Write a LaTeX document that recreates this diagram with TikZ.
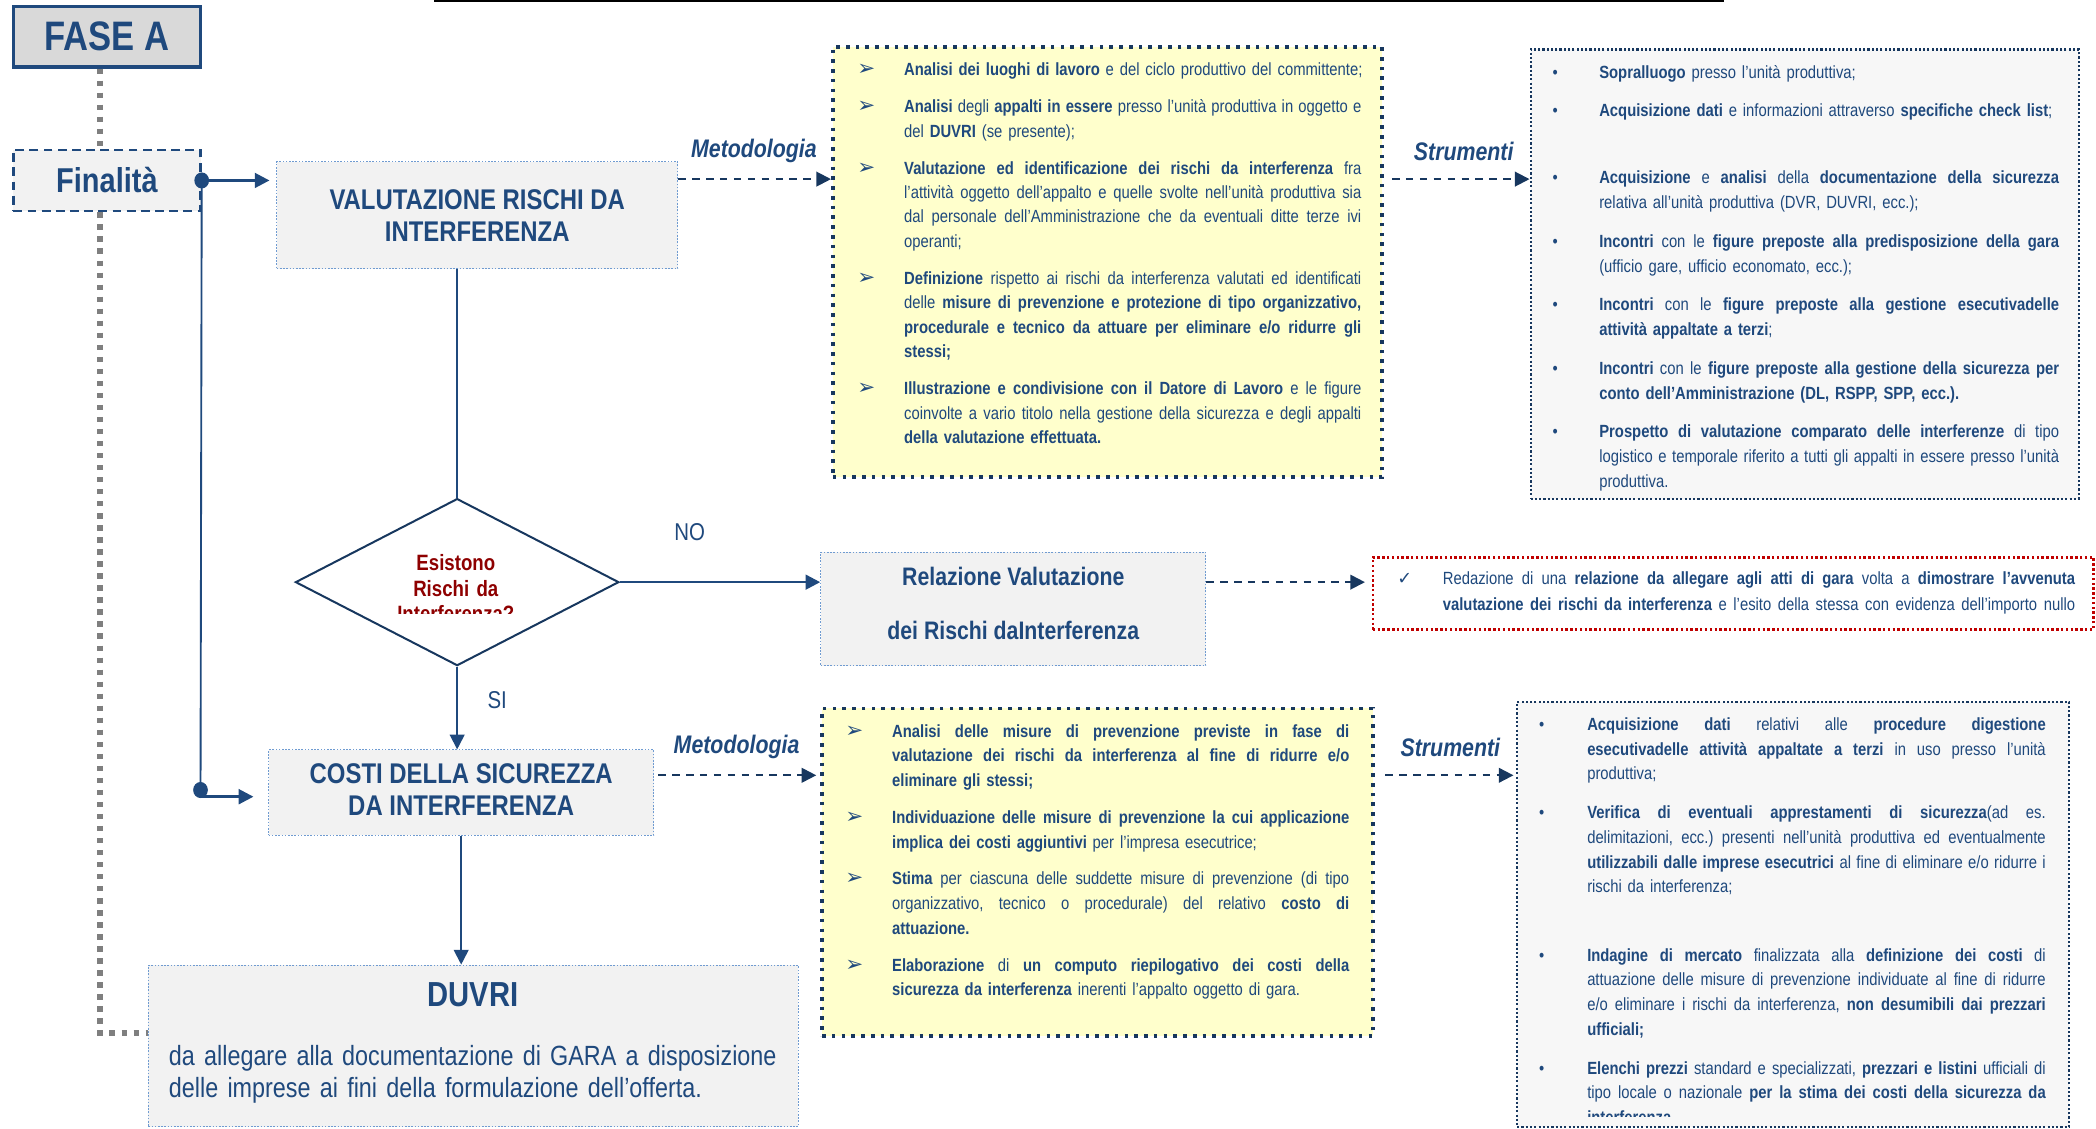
\documentclass[tikz,border=0pt]{standalone}
\usepackage{fontspec}
\setmainfont{Liberation Sans}[FakeStretch=0.84]
\newfontfamily\djv{DejaVu Sans}
\usetikzlibrary{arrows.meta,shapes.geometric,calc}
\definecolor{tblue}{HTML}{1F497D}
\definecolor{navy}{HTML}{17375E}
\definecolor{boxgray}{HTML}{F2F2F2}
\definecolor{toolgray}{HTML}{F7F7F7}
\definecolor{ylw}{HTML}{FFFFCC}
\definecolor{lblue}{HTML}{6F9BD1}
\definecolor{dkred}{HTML}{8E0000}
\definecolor{redb}{HTML}{C00000}
\definecolor{dgray}{HTML}{7F7F7F}
\definecolor{faseg}{HTML}{D9D9D9}
\newcommand\fsz[2]{\fontsize{#1}{#2}\selectfont}
\newlength\mybulw
\newlength\rsLineW
\newcommand\itemsz[1]{\fontsize{6.6pt}{#1}\selectfont\frenchspacing}
\makeatletter
\def\rsJ#1{\hbox to \rsLineW{\rs@a#1 \rs@end}}
\def\rs@a#1 #2\rs@end{#1\ifx\relax#2\relax\else\hskip0.233em plus 1fil minus 0.06em\relax\rs@a#2\rs@end\fi}
\makeatother
\newcommand\lnA[2]{\hbox{\makebox[\mybulw][l]{#1}\rsJ{#2}}}
\newcommand\lnB[2]{\hbox{\makebox[\mybulw][l]{#1}#2}}
\newcommand\lnC[1]{\hbox{\hspace{\mybulw}\rsJ{#1}}}
\newcommand\lnD[1]{\hbox{\hspace{\mybulw}#1}}
\newcommand\ab{{\djv\fontsize{8pt}{8pt}\selectfont ➢}}
\newcommand\db{\hspace{1.5pt}•}
\newcommand\ck{\hspace{1pt}{\djv ✓}}
\begin{document}
\begin{tikzpicture}[x=0.5pt,y=-0.5pt,
  box/.style={draw=lblue, line width=0.4pt, dash pattern=on 0.6pt off 0.6pt, fill=boxgray, inner sep=0pt, text=tblue},
  ybox/.style={draw=navy, line width=1.35pt, dash pattern=on 1.35pt off 2.3pt, fill=ylw, inner sep=0pt},
  tbox/.style={draw=navy, line width=0.8pt, dash pattern=on 0.8pt off 0.8pt, fill=toolgray, inner sep=0pt},
  rbox/.style={draw=redb, line width=0.9pt, dash pattern=on 0.9pt off 0.9pt, fill=white, inner sep=0pt},
  lst/.style={anchor=base west, inner sep=0pt, text=tblue},
  conn/.style={draw=tblue, line width=0.7pt},
  tip/.style={-{Triangle[length=5.5pt,width=5.5pt]}},
  darr/.style={draw=navy, line width=0.75pt, dash pattern=on 2.8pt off 2.4pt, -{Triangle[length=5.5pt,width=5.5pt]}},
  graydot/.style={draw=dgray, line width=2.3pt, dash pattern=on 2pt off 2.5pt},
  lab/.style={text=tblue, inner sep=0pt, font=\bfseries\itshape\fsz{9.5pt}{11pt}},
  dotn/.style={ellipse, fill=tblue, inner sep=0pt, minimum width=5.5pt, minimum height=6pt},
  titlef/.style={font=\bfseries\fsz{10.65pt}{12pt}}
]
\useasboundingbox (0,0) rectangle (1568,844);
\draw[line width=0.8pt] (325,1) -- (1290,1);

% main boxes
\node[draw=tblue, line width=1.3pt, fill=faseg, text=tblue, minimum width=70pt, minimum height=22.5pt, inner sep=0pt, font=\bfseries\fsz{15.4pt}{18pt}] (fase) at (80,27.5) {FASE A};
\node[draw=tblue, line width=0.9pt, dash pattern=on 3.3pt off 2pt, fill=boxgray, text=tblue, minimum width=70pt, minimum height=23pt, inner sep=0pt, font=\bfseries\fsz{12.9pt}{15pt}] (fin) at (80,135) {Finalità};
\node[box, titlef, align=center, minimum width=150pt, minimum height=40pt] (val) at (357,161) {VALUTAZIONE RISCHI DA\\INTERFERENZA};
\node[draw=navy, line width=0.75pt, fill=white, diamond, minimum width=121pt, minimum height=62.5pt, inner sep=0pt] (dec) at (342,435.5) {};
\node[box, minimum width=144pt, minimum height=42.5pt] (rel) at (758,455.5) {};
\node[rbox, minimum width=269.5pt, minimum height=27pt] (red) at (1296.5,444) {};
\node[ybox, minimum width=205.5pt, minimum height=161pt] (y1) at (828.5,196) {};
\node[tbox, minimum width=205pt, minimum height=168pt] (g1) at (1350,205) {};
\node[box, minimum width=144pt, minimum height=32pt] (costi) at (345,593) {};
\node[box, minimum width=243pt, minimum height=60.5pt] (duvri) at (354,782.5) {};
\node[ybox, minimum width=206pt, minimum height=122.5pt] (y2) at (821,652.5) {};
\node[tbox, minimum width=206.5pt, minimum height=159pt] (g2) at (1341.5,684) {};

% texts inside
\node[inner sep=0pt, text=tblue, align=center, font=\bfseries\fsz{9.47pt}{11pt}] (relt) at (758,451.5) {Relazione Valutazione\\[9.5pt]dei Rischi daInterferenza};
\node[inner sep=0pt, text=tblue, titlef, align=center] (costit) at (345,591) {COSTI DELLA SICUREZZA\\DA INTERFERENZA};
\begin{scope}
\clip (219,373) rectangle (465,458.6);
\node[anchor=base, inner sep=0pt, text=dkred, text width=80pt, align=center, font=\bfseries\fsz{8.3pt}{9.5pt}] (dect) at (341,427) {Esistono\\Rischi da\\Interferenza?};
\end{scope}
\node[anchor=center, inner sep=0pt, text=tblue, font=\bfseries\fsz{13pt}{15pt}] (duvt) at (354,744) {DUVRI};
\node[lst, text width=240pt, align=left, font=\fsz{10.4pt}{12pt}] (duvb) at (126,797) {da allegare alla documentazione di GARA a disposizione\\delle imprese ai fini della formulazione dell’offerta.};

\node[text=tblue, inner sep=0pt, font=\fsz{9.1pt}{11pt}] (no) at (516,398) {NO};
\node[text=tblue, inner sep=0pt, font=\fsz{9.1pt}{11pt}] (si) at (372,524) {SI};
\node[lab] (met1) at (564,113) {Metodologia};
\node[lab] (str1) at (1095,113) {Strumenti};
\node[lab] (met2) at (551,559) {Metodologia};
\node[lab] (str2) at (1085,559) {Strumenti};

% list Y1
\setlength\mybulw{17.5pt}\setlength\rsLineW{171pt}
\node[lst, text width=188.5pt, font=\itemsz{9.15pt}] (y1t) at (641,56.5) {%
\lnB{\ab}{\textbf{Analisi dei luoghi di lavoro} e del ciclo produttivo del committente;}
\vskip4.7pt
\lnA{\ab}{\bfseries Analisi\mdseries{} degli \bfseries appalti in essere\mdseries{} presso l’unità produttiva in oggetto e}
\lnD{del \textbf{DUVRI} (se presente);}
\vskip4.7pt
\lnA{\ab}{\bfseries Valutazione ed identificazione dei rischi da interferenza\mdseries{} fra}
\lnC{l’attività oggetto dell’appalto e quelle svolte nell’unità produttiva sia}
\lnC{dal personale dell’Amministrazione che da eventuali ditte terze ivi}
\lnD{operanti;}
\vskip4.7pt
\lnA{\ab}{\bfseries Definizione\mdseries{} rispetto ai rischi da interferenza valutati ed identificati}
\lnC{delle \bfseries misure di prevenzione e protezione di tipo organizzativo,}
\lnC{\bfseries procedurale e tecnico da attuare per eliminare e/o ridurre gli}
\lnD{\textbf{stessi;}}
\vskip4.7pt
\lnA{\ab}{\bfseries Illustrazione e condivisione con il Datore di Lavoro\mdseries{} e le figure}
\lnC{coinvolte a vario titolo nella gestione della sicurezza e degli appalti}
\lnD{\textbf{della valutazione effettuata.}}};

% list G1
\setlength\mybulw{19pt}\setlength\rsLineW{172pt}
\node[lst, text width=191pt, font=\itemsz{9.25pt}] (g1t) at (1158,58.5) {%
\lnB{\db}{\textbf{Sopralluogo} presso l’unità produttiva;}
\vskip5.25pt
\lnB{\db}{\textbf{Acquisizione dati} e informazioni attraverso \textbf{specifiche check list};}
\vskip15.75pt
\lnA{\db}{\bfseries Acquisizione\mdseries{} e \bfseries analisi\mdseries{} della \bfseries documentazione della sicurezza}
\lnD{relativa all’unità produttiva (DVR, DUVRI, ecc.);}
\vskip5.25pt
\lnA{\db}{\bfseries Incontri\mdseries{} con le \bfseries figure preposte alla predisposizione della gara}
\lnD{(ufficio gare, ufficio economato, ecc.);}
\vskip5.25pt
\lnA{\db}{\bfseries Incontri\mdseries{} con le \bfseries figure preposte alla gestione esecutivadelle}
\lnD{\textbf{attività appaltate a terzi};}
\vskip5.25pt
\lnA{\db}{\bfseries Incontri\mdseries{} con le \bfseries figure preposte alla gestione della sicurezza per}
\lnD{\textbf{conto dell’Amministrazione (DL, RSPP, SPP, ecc.).}}
\vskip5.25pt
\lnA{\db}{\bfseries Prospetto di valutazione comparato delle interferenze\mdseries{} di tipo}
\lnC{logistico e temporale riferito a tutti gli appalti in essere presso l’unità}
\lnD{produttiva.}};

% red list
\setlength\mybulw{18pt}\setlength\rsLineW{236.5pt}
\node[lst, text width=254.5pt, font=\itemsz{9.5pt}] (redt) at (1043,437.5) {%
\lnA{\ck}{Redazione di una \bfseries relazione da allegare agli atti di gara\mdseries{} volta a \bfseries dimostrare l’avvenuta}
\lnC{\bfseries valutazione dei rischi da interferenza\mdseries{} e l’esito della stessa con evidenza dell’importo nullo}};

% list Y2
\setlength\mybulw{17.5pt}\setlength\rsLineW{171pt}
\node[lst, text width=188.5pt, font=\itemsz{9.25pt}] (y2t) at (632,551.5) {%
\lnA{\ab}{\bfseries Analisi delle misure di prevenzione previste in fase di}
\lnC{\bfseries valutazione dei rischi da interferenza al fine di ridurre e/o}
\lnD{\textbf{eliminare gli stessi;}}
\vskip4.5pt
\lnA{\ab}{\bfseries Individuazione delle misure di prevenzione la cui applicazione}
\lnD{\textbf{implica dei costi aggiuntivi} per l’impresa esecutrice;}
\vskip4.5pt
\lnA{\ab}{\bfseries Stima\mdseries{} per ciascuna delle suddette misure di prevenzione (di tipo}
\lnC{organizzativo, tecnico o procedurale) del relativo \bfseries costo di}
\lnD{\textbf{attuazione.}}
\vskip4.5pt
\lnA{\ab}{\bfseries Elaborazione\mdseries{} di \bfseries un computo riepilogativo dei costi della}
\lnD{\textbf{sicurezza da interferenza} inerenti l’appalto oggetto di gara.}};

% list G2
\setlength\mybulw{19.5pt}\setlength\rsLineW{171.5pt}
\begin{scope}
\clip (1130,520) rectangle (1552,835);
\node[lst, text width=191pt, font=\itemsz{9.25pt}] (g2t) at (1148,546.5) {%
\lnA{\db}{\bfseries Acquisizione dati\mdseries{} relativi alle \bfseries procedure digestione}
\lnC{\bfseries esecutivadelle attività appaltate a terzi\mdseries{} in uso presso l’unità}
\lnD{produttiva;}
\vskip5.25pt
\lnA{\db}{\bfseries Verifica di eventuali apprestamenti di sicurezza\mdseries{}(ad es.}
\lnC{delimitazioni, ecc.) presenti nell’unità produttiva ed eventualmente}
\lnC{\bfseries utilizzabili dalle imprese esecutrici\mdseries{} al fine di eliminare e/o ridurre i}
\lnD{rischi da interferenza;}
\vskip16.25pt
\lnA{\db}{\bfseries Indagine di mercato\mdseries{} finalizzata alla \bfseries definizione dei costi\mdseries{} di}
\lnC{attuazione delle misure di prevenzione individuate al fine di ridurre}
\lnC{e/o eliminare i rischi da interferenza, \bfseries non desumibili dai prezzari}
\lnD{\textbf{ufficiali;}}
\vskip5.25pt
\lnA{\db}{\bfseries Elenchi prezzi\mdseries{} standard e specializzati, \bfseries prezzari e listini\mdseries{} ufficiali di}
\lnC{tipo locale o nazionale \bfseries per la stima dei costi della sicurezza da}
\lnD{\textbf{interferenza.}}};
\end{scope}

% connectors
\draw[graydot] ($(fase.south)+(-5,0)$) -- ($(fin.north)+(-5,0)$);
\draw[graydot] ($(fin.south)+(-5,0)$) |- ($(duvri.west)+(0,-9.5)$);
\node[dotn] (d1) at (fin.east) {};
\coordinate (j2) at (150,596);
\node[dotn] (d2) at (150,591) {};
\draw[conn, line width=1pt, tip, shorten >=2.5pt] (d1.center) -- (d1.center -| val.west);
\draw[conn] (d1.center) -- (j2);
\draw[conn, line width=1pt, tip, shorten >=5.5pt] (j2) -- (j2 -| costi.west);
\draw[conn] (val.south -| dec.north) -- (dec.north);
\draw[conn, line width=1pt, tip] (dec.east) -- (rel.west |- dec.east);
\draw[conn, tip] (dec.south) -- (dec.south |- costi.north);
\draw[conn, tip] (costi.south) -- (costi.south |- duvri.north);
\coordinate (r1) at (0,134);
\coordinate (r2) at (0,580);
\draw[darr] (val.east |- r1) -- (y1.west |- r1);
\draw[darr] ($(y1.east |- r1)+(6,0)$) -- (g1.west |- r1);
\draw[darr] (rel.east |- dec.east) -- ($(red.west |- dec.east)+(-5,0)$);
\draw[darr] ($(costi.east |- r2)+(3,0)$) -- ($(y2.west |- r2)+(-3,0)$);
\draw[darr] ($(y2.east |- r2)+(8,0)$) -- ($(g2.west |- r2)+(-2,0)$);
\end{tikzpicture}
\end{document}
